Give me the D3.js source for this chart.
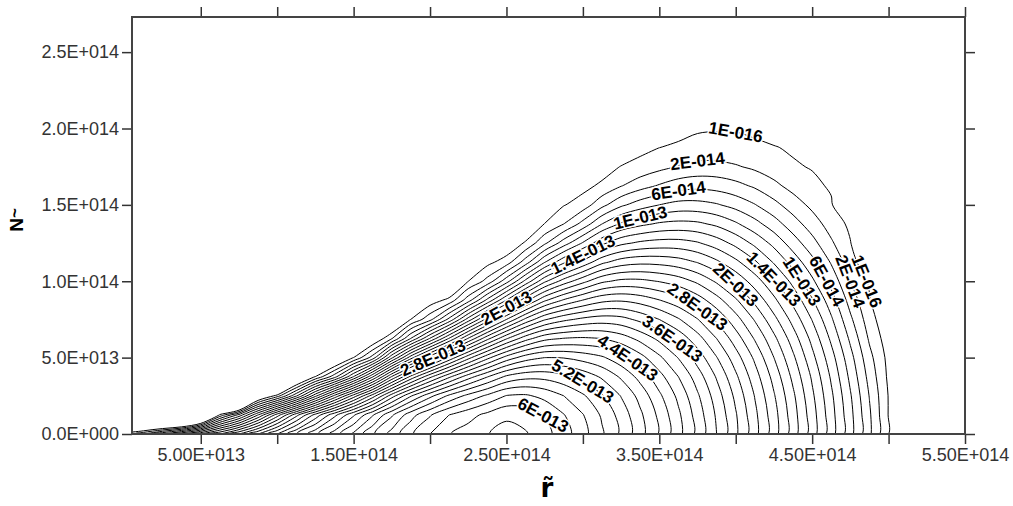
<!DOCTYPE html>
<html><head><meta charset="utf-8">
<script src="https://cdn.jsdelivr.net/npm/d3@7"></script>
<style>body{margin:0;background:#fff}</style>
</head><body><svg width="1013" height="506"></svg>
<script>
// r grid (x 1e14), N grid (x 1e14)
const rGrid = [0, 0.125, 0.25, 0.375, 0.5, 0.625, 0.75, 0.875, 1, 1.125, 1.25, 1.375, 1.5, 1.625,
  1.75, 1.875, 2, 2.125, 2.25, 2.375, 2.5, 2.625, 2.75, 2.875, 3, 3.125, 3.25, 3.375, 3.5, 3.625,
  3.75, 3.875, 4, 4.125, 4.25, 4.375, 4.5, 4.625, 4.75, 4.875, 5, 5.125];
const nGrid = [0, 0.125, 0.25, 0.375, 0.5, 0.625, 0.75, 0.875, 1, 1.125, 1.25, 1.375, 1.5, 1.625,
  1.75, 1.875, 2, 2.125];

// field values, unit 1E-015 (negative = outside the region)
const field = [
  [-5, 40, 80, 120, 160, 200, 240, 280, 320, 359, 395, 430, 464, 497, 528, 557, 580, 599, 609, 619, 628,
   622, 607, 589, 567, 543, 516, 488, 458, 427, 394, 360, 324, 287, 249, 210, 170, 129, 87, 44, 0, -37],
  [-5, -200, -200, -200, -127, 4, 66, 140, 210, 273, 327, 374, 417, 458, 497, 532, 558, 580, 593, 605, 616,
   612, 599, 581, 561, 537, 512, 484, 455, 424, 391, 357, 322, 285, 248, 209, 169, 128, 86, 43, -1, -38],
  [-5, -200, -200, -200, -200, -200, -200, -44, 10, 77, 154, 225, 289, 350, 411, 458, 494, 524, 546, 564, 581,
   583, 574, 560, 543, 522, 499, 473, 444, 415, 383, 350, 315, 279, 242, 204, 164, 124, 82, 39, -1, -39],
  [-5, -200, -200, -200, -200, -200, -200, -200, -200, -58, 2, 52, 121, 198, 282, 346, 395, 436, 471, 499, 524,
   534, 534, 526, 513, 497, 477, 453, 427, 400, 370, 338, 304, 269, 233, 195, 157, 117, 75, 33, -4, -41],
  [-5, -200, -200, -200, -200, -200, -200, -200, -200, -200, -200, -45, 1, 49, 136, 212, 272, 325, 373, 414, 448,
   470, 480, 479, 472, 463, 447, 427, 404, 379, 351, 321, 289, 256, 220, 184, 146, 108, 67, 26, -6, -44],
  [-5, -200, -200, -200, -200, -200, -200, -200, -200, -200, -200, -200, -152, -23, 19, 81, 142, 202, 262, 314, 358,
   392, 414, 421, 423, 420, 410, 394, 375, 353, 328, 300, 270, 238, 205, 170, 134, 96, 56, 17, -11, -48],
  [-5, -200, -200, -200, -200, -200, -200, -200, -200, -200, -200, -200, -200, -200, -45, 1, 34, 86, 149, 208, 260,
   305, 338, 355, 365, 370, 367, 355, 340, 322, 301, 276, 248, 218, 186, 153, 119, 83, 44, 9, -17, -55],
  [-5, -200, -200, -200, -200, -200, -200, -200, -200, -200, -200, -200, -200, -200, -200, -84, -12, 7, 52, 106, 161,
   214, 257, 283, 301, 315, 318, 312, 301, 288, 270, 248, 223, 195, 165, 134, 102, 69, 32, 2, -29, -67],
  [-5, -200, -200, -200, -200, -200, -200, -200, -200, -200, -200, -200, -200, -200, -200, -200, -144, -42, 0, 27, 72,
   126, 176, 209, 234, 256, 265, 265, 259, 250, 236, 217, 195, 170, 143, 114, 84, 53, 20, -3, -42, -79],
  [-5, -200, -200, -200, -200, -200, -200, -200, -200, -200, -200, -200, -200, -200, -200, -200, -200, -200, -64, -6, 10,
   50, 99, 136, 166, 195, 210, 215, 214, 209, 199, 184, 165, 143, 118, 92, 66, 38, 9, -17, -54, -92],
  [-5, -200, -200, -200, -200, -200, -200, -200, -200, -200, -200, -200, -200, -200, -200, -200, -200, -200, -200, -87, -19,
   3, 36, 70, 102, 135, 155, 164, 168, 168, 162, 150, 134, 115, 94, 70, 47, 23, 1, -30, -68, -105],
  [-5, -200, -200, -200, -200, -200, -200, -200, -200, -200, -200, -200, -200, -200, -200, -200, -200, -200, -200, -200, -112,
   -26, 1, 20, 47, 80, 103, 115, 123, 126, 124, 116, 103, 87, 69, 49, 30, 11, -4, -46, -84, -121],
  [-5, -200, -200, -200, -200, -200, -200, -200, -200, -200, -200, -200, -200, -200, -200, -200, -200, -200, -200, -200, -200,
   -116, -28, -1, 9, 34, 56, 70, 80, 87, 87, 82, 73, 61, 46, 30, 15, 2, -26, -64, -101, -139],
  [-5, -200, -200, -200, -200, -200, -200, -200, -200, -200, -200, -200, -200, -200, -200, -200, -200, -200, -200, -200, -200,
   -200, -111, -40, -6, 4, 19, 32, 42, 51, 54, 52, 46, 37, 25, 13, 4, -2, -48, -85, -123, -160],
  [-5, -200, -200, -200, -200, -200, -200, -200, -200, -200, -200, -200, -200, -200, -200, -200, -200, -200, -200, -200, -200,
   -200, -200, -123, -51, -10, 1, 6, 14, 21, 26, 26, 22, 16, 9, 2, -1, -18, -85, -123, -160, -198],
  [-5, -200, -200, -200, -200, -200, -200, -200, -200, -200, -200, -200, -200, -200, -200, -200, -200, -200, -200, -200, -200,
   -200, -200, -200, -134, -54, -18, -5, 0, 3, 6, 6, 5, 3, 1, -2, -12, -48, -143, -180, -200, -200],
  [-5, -200, -200, -200, -200, -200, -200, -200, -200, -200, -200, -200, -200, -200, -200, -200, -200, -200, -200, -200, -200,
   -200, -200, -200, -200, -130, -65, -34, -16, -6, -2, -1, -1, -3, -7, -16, -35, -90, -200, -200, -200, -200],
  [-5, -200, -200, -200, -200, -200, -200, -200, -200, -200, -200, -200, -200, -200, -200, -200, -200, -200, -200, -200, -200,
   -200, -200, -200, -200, -200, -140, -89, -55, -33, -21, -17, -9, -19, -26, -39, -69, -148, -200, -200, -200, -200]
];

// contour levels, unit 1E-015 (0.1 = 1E-016)
const levels = [0.1, 20, 40, 60, 80, 100, 120, 140, 160, 180, 200, 220, 240, 260, 280, 300, 320, 340, 360,
  380, 400, 420, 440, 460, 480, 500, 520, 540, 560, 580, 600, 620];

const xTicks = [0.5, 1, 1.5, 2, 2.5, 3, 3.5, 4, 4.5, 5, 5.5];
const xTickLabels = ["5.00E+013", "", "1.50E+014", "", "2.50E+014", "", "3.50E+014", "", "4.50E+014", "", "5.50E+014"];
const yTicks = [0, 0.5, 1, 1.5, 2, 2.5];
const yTickLabels = ["0.0E+000", "5.0E+013", "1.0E+014", "1.5E+014", "2.0E+014", "2.5E+014"];

// where the level labels sit (level, r, N) - placement only
const labelSpots = [
  [280, 2.064, 0.518], [200, 2.503, 0.845], [140, 2.948, 1.173], [100, 3.353, 1.409],
  [60, 3.615, 1.579], [20, 3.772, 1.776], [0.1, 3.962, 1.933],
  [0.1, 4.878, 0.976], [20, 4.715, 0.99], [60, 4.505, 1.029], [100, 4.374, 0.963],
  [140, 4.191, 0.963], [200, 4.014, 0.93], [280, 3.779, 0.793], [360, 3.556, 0.662],
  [440, 3.321, 0.498], [520, 3.059, 0.367], [600, 2.758, 0.19]
];

const svg = d3.select("svg");
const x = d3.scaleLinear().domain([0.05, 5.5]).range([132, 965]);
const y = d3.scaleLinear().domain([0, 2.73]).range([434, 17]);

svg.append("clipPath").attr("id", "plot")
  .append("rect").attr("x", 132).attr("y", 17).attr("width", 833).attr("height", 417);

// contours
const nx = rGrid.length, ny = nGrid.length;
const contours = d3.contours().size([nx, ny]).thresholds(levels)(field.flat());
const gx = d3.scaleLinear().domain([0.5, nx - 0.5]).range([rGrid[0], rGrid[nx - 1]]);
const gy = d3.scaleLinear().domain([0.5, ny - 0.5]).range([nGrid[0], nGrid[ny - 1]]);
const toPx = p => [x(gx(p[0])), y(gy(p[1]))];
const line = d3.line().curve(d3.curveCatmullRomClosed.alpha(0.5));

const ringsByLevel = new Map();
const g = svg.append("g").attr("clip-path", "url(#plot)");
contours.forEach(c => {
  const rings = [];
  c.coordinates.forEach(poly => poly.forEach(ring => rings.push(ring.slice(0, -1).map(toPx))));
  ringsByLevel.set(c.value, rings);
  g.selectAll(null).data(rings).enter().append("path")
    .attr("d", d => line(d))
    .attr("fill", "none").attr("stroke", "#000").attr("stroke-width", 1);
});

// 2.8E-013 style
function fmt(v) {
  const val = v * 1e-15;
  const e = Math.floor(Math.log10(val) + 1e-9);
  const mant = +(val / Math.pow(10, e)).toFixed(1);
  return mant + "E" + (e < 0 ? "-" : "+") + String(Math.abs(e)).padStart(3, "0");
}

labelSpots.forEach(([lev, r, n]) => {
  const rings = ringsByLevel.get(lev) || [];
  const tx = x(r), ty = y(n);
  let best = null;
  rings.forEach(ring => ring.forEach((p, i) => {
    const d = (p[0] - tx) ** 2 + (p[1] - ty) ** 2;
    if (!best || d < best.d) best = {d, ring, i};
  }));
  if (!best) return;
  const ring = best.ring, L = ring.length, p = ring[best.i];
  const a = ring[(best.i - 1 + L) % L], b = ring[(best.i + 1) % L];
  let ang = Math.atan2(b[1] - a[1], b[0] - a[0]) * 180 / Math.PI;
  if (ang > 90) ang -= 180;
  if (ang < -90) ang += 180;
  g.append("text")
    .attr("transform", `translate(${p[0]},${p[1]}) rotate(${ang})`)
    .attr("text-anchor", "middle").attr("dy", "0.35em")
    .attr("font-family", "Liberation Sans, Arial, sans-serif")
    .attr("font-weight", "bold").attr("font-size", 17)
    .attr("stroke", "#fff").attr("stroke-width", 3).attr("paint-order", "stroke")
    .attr("fill", "#000").text(fmt(lev));
});

// axes on all four sides
const tickFont = s => s.selectAll("text")
  .attr("font-family", "Liberation Sans, Arial, sans-serif").attr("font-size", 18).attr("fill", "#333");
const axStyle = s => { s.select(".domain").remove(); s.selectAll("line").attr("stroke", "#333").attr("stroke-width", 1.5); };

svg.append("g").attr("transform", "translate(0,434)")
  .call(d3.axisBottom(x).tickValues(xTicks).tickSize(10).tickPadding(4).tickFormat((d, i) => xTickLabels[i]))
  .call(axStyle).call(tickFont);
svg.append("g").attr("transform", "translate(0,17)")
  .call(d3.axisTop(x).tickValues(xTicks).tickSize(10).tickFormat("")).call(axStyle);
svg.append("g").attr("transform", "translate(132,0)")
  .call(d3.axisLeft(y).tickValues(yTicks).tickSize(10).tickPadding(3).tickFormat((d, i) => yTickLabels[i]))
  .call(axStyle).call(tickFont);
svg.append("g").attr("transform", "translate(965,0)")
  .call(d3.axisRight(y).tickValues(yTicks).tickSize(10).tickFormat("")).call(axStyle);

svg.append("rect").attr("x", 132).attr("y", 17).attr("width", 833).attr("height", 417)
  .attr("fill", "none").attr("stroke", "#444").attr("stroke-width", 2);

// axis titles
svg.append("text").attr("x", 547).attr("y", 497).attr("text-anchor", "middle")
  .attr("font-family", "DejaVu Sans, sans-serif").attr("font-weight", "bold").attr("font-size", 26)
  .text("r\u0303");
const yl = svg.append("text").attr("transform", "translate(23,220) rotate(-90)").attr("text-anchor", "middle")
  .attr("font-family", "Liberation Sans, Arial, sans-serif").attr("font-weight", "bold").attr("font-size", 19);
yl.append("tspan").text("N");
yl.append("tspan").attr("dy", -3).attr("font-size", 17).text("~");
</script></body></html>
